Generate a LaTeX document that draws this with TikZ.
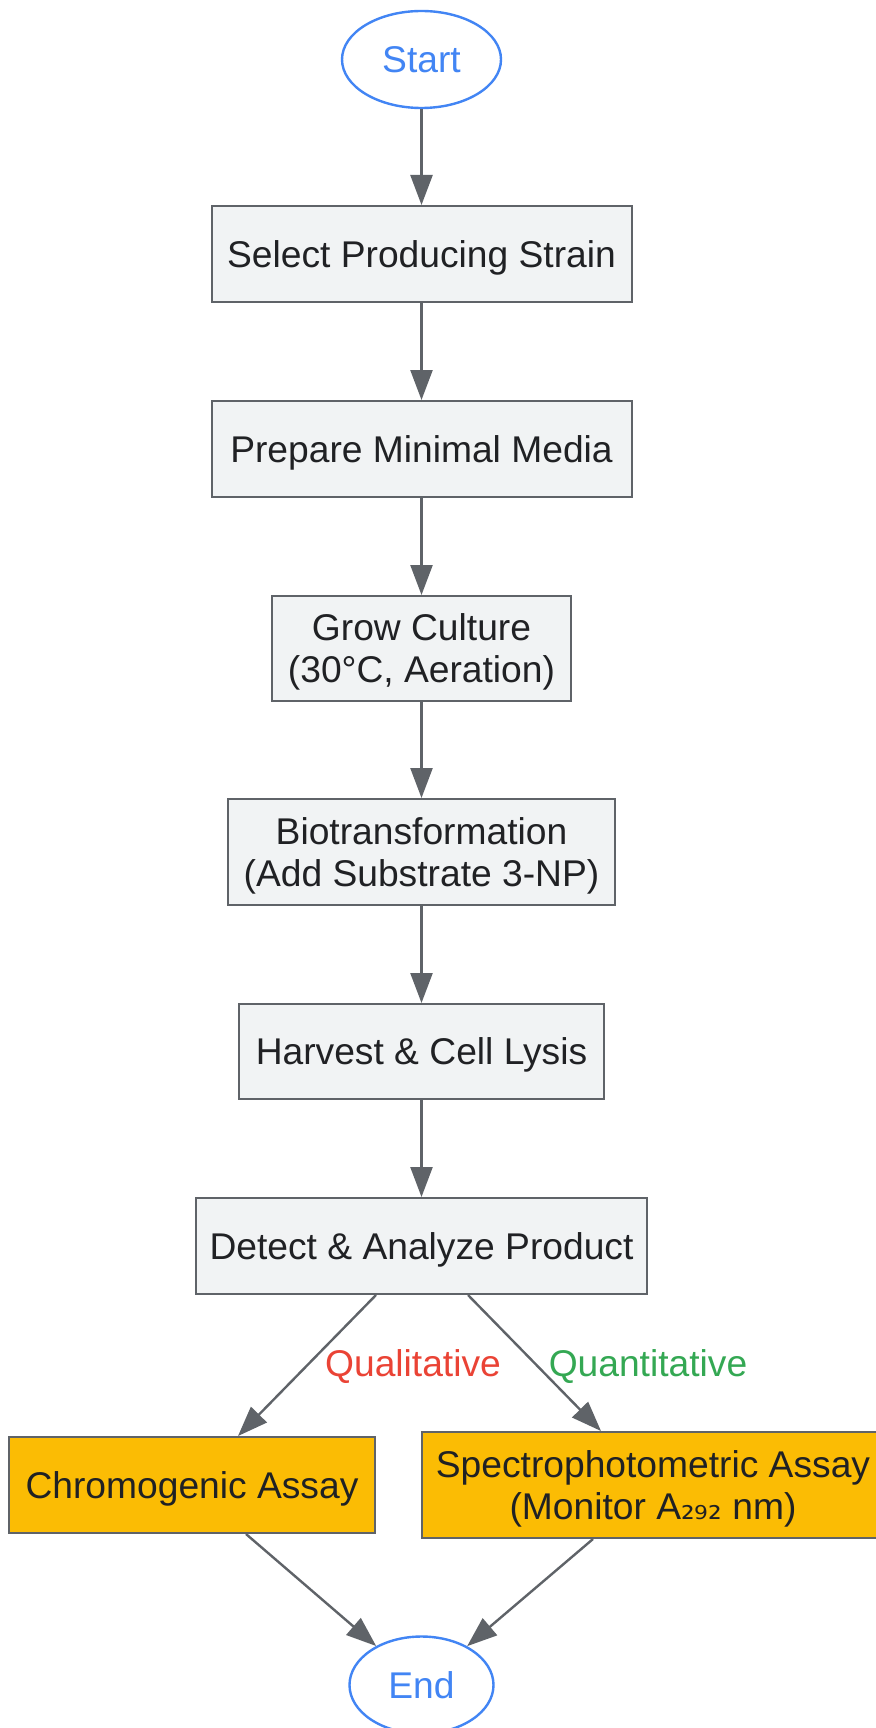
\documentclass[tikz,border=0pt]{standalone}
\usepackage{fontspec}
\setmainfont{Liberation Sans}
\newfontfamily\subfont{DejaVu Sans}
\usetikzlibrary{arrows.meta,shapes.geometric}
\definecolor{boxfill}{HTML}{F1F3F4}
\definecolor{boxline}{HTML}{5F6368}
\definecolor{txt}{HTML}{202124}
\definecolor{gyellow}{HTML}{FBBC04}
\definecolor{gblue}{HTML}{4285F4}
\definecolor{gred}{HTML}{EA4335}
\definecolor{ggreen}{HTML}{34A853}
\tikzset{
  basefont/.style={font=\fontsize{18.6pt}{21pt}\selectfont},
  terminal/.style={ellipse, draw=gblue, line width=1.2pt, fill=white, text=gblue, basefont, inner sep=0pt},
  stepbox/.style={rectangle, draw=boxline, line width=1pt, fill=boxfill, text=txt, basefont, align=center, inner sep=0pt, text depth=0pt},
  assaybox/.style={stepbox, fill=gyellow},
  flow/.style={draw=boxline, line width=1.2pt, -{Triangle[length=15pt,width=11pt]}},
  lbl/.style={basefont, inner sep=0pt}
}
\begin{document}
\begin{tikzpicture}[x=0.5pt,y=-0.5pt]
\useasboundingbox (0,0) rectangle (876,1728);
\fill[white] (0,0) rectangle (876,1728);

\node[terminal, minimum width=79.5pt, minimum height=48.5pt] (start) at (421.5,59.5) {Start};
\node[stepbox, minimum width=210pt, minimum height=48pt] (select) at (421.5,254) {Select Producing Strain};
\node[stepbox, minimum width=210pt, minimum height=48pt] (prepare) at (421.5,449) {Prepare Minimal Media};
\node[stepbox, minimum width=149.5pt, minimum height=52.5pt] (grow) at (421.5,648.5) {Grow Culture\\(30°C, Aeration)};
\node[stepbox, minimum width=193.5pt, minimum height=53pt] (bio) at (421.5,852) {Biotransformation\\(Add Substrate 3-NP)};
\node[stepbox, minimum width=182.5pt, minimum height=47.5pt] (harvest) at (421.5,1051.5) {Harvest \& Cell Lysis};
\node[stepbox, minimum width=225.5pt, minimum height=48pt] (detect) at (421.5,1246) {Detect \& Analyze Product};
\node[assaybox, minimum width=183pt, minimum height=48pt] (chromo) at (192,1485) {Chromogenic Assay};
\node[assaybox, minimum width=231pt, minimum height=53pt] (spectro) at (653,1485) {Spectrophotometric Assay\\(Monitor A{\subfont\fontsize{17pt}{21pt}\selectfont ₂₉₂} nm)};
\node[terminal, minimum width=72pt, minimum height=48.5pt] (endn) at (421.5,1685) {End};

\draw[flow] (start) -- (select);
\draw[flow] (select) -- (prepare);
\draw[flow] (prepare) -- (grow);
\draw[flow] (grow) -- (bio);
\draw[flow] (bio) -- (harvest);
\draw[flow] (harvest) -- (detect);
\draw[flow] ([xshift=-22.75pt]detect.south) -- ([xshift=23pt]chromo.north);
\draw[flow] ([xshift=23.25pt]detect.south) -- ([xshift=-26pt]spectro.north);
\draw[flow] ([xshift=27pt]chromo.south) -- (endn);
\draw[flow] ([xshift=-30pt]spectro.south) -- (endn);

\node[lbl, text=gred] (qual) at (413,1367) {Qualitative};
\node[lbl, text=ggreen] (quant) at (648,1367) {Quantitative};
\end{tikzpicture}
\end{document}
